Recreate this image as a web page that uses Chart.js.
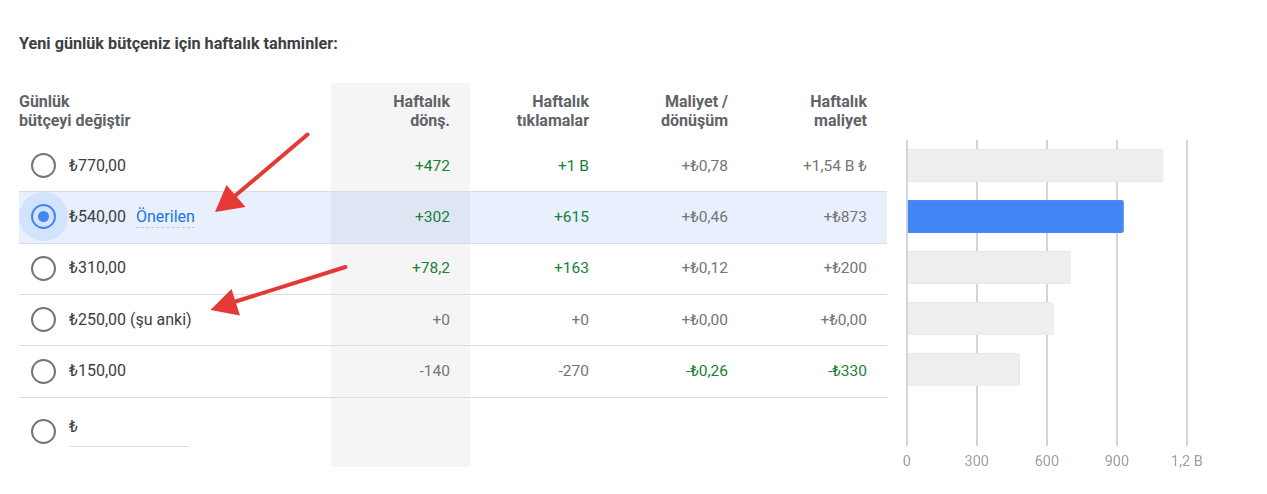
<!DOCTYPE html>
<html><head><meta charset="utf-8">
<script src="https://cdn.jsdelivr.net/npm/chart.js@4.4.1/dist/chart.umd.min.js"></script>
<style>
html,body{margin:0;padding:0}
body{width:1267px;height:494px;background:#fff;font-family:Roboto,"Noto Sans",Arial,sans-serif;position:relative;overflow:hidden;color:#3c4043}
.abs{position:absolute}
#title{font-size:16.2px;font-weight:700;color:#3c4043;line-height:20px;white-space:nowrap}
.hdr{font-size:16px;font-weight:700;color:#5f6368;line-height:19px;white-space:nowrap}
.graycol{background:rgba(0,0,0,0.04)}
.rowline{height:1px;background:#dadce0}
.val{font-size:15.5px;line-height:20px;text-align:right;white-space:nowrap;color:#757575}
.val.good{color:#188038}
.bud{font-size:16px;line-height:20px;white-space:nowrap;color:#3c4043}
.rec{color:#1a73e8;border-bottom:1px dashed #c4c7cc;margin-left:10px;padding-bottom:1px}
.radio{width:21px;height:21px;border:2px solid #757575;border-radius:50%;box-sizing:content-box}
.radio.on{border-color:#4285f4}
.dot{width:11px;height:11px;border-radius:50%;background:#4285f4}
.halo{width:49px;height:49px;border-radius:50%;background:#d2e3fc}
#chartBox{left:890px;top:130px;width:377px;height:350px}
svg{position:absolute;left:0;top:0;pointer-events:none}
</style>
</head>
<body>
<div id="root"></div>
<div id="chartBox" class="abs"><canvas id="c"></canvas></div>
<script>
// ---- data ----
const titleText = "Yeni günlük bütçeniz için haftalık tahminler:";
const headers = [["Günlük","bütçeyi değiştir"],["Haftalık","dönş."],["Haftalık","tıklamalar"],["Maliyet /","dönüşüm"],["Haftalık","maliyet"]];
const budgets = ["₺770,00","₺540,00","₺310,00","₺250,00","₺150,00","₺"];
const budgetNotes = ["","Önerilen","","(şu anki)","",""];
const weeklyConversions = ["+472","+302","+78,2","+0","-140"];
const weeklyClicks = ["+1 B","+615","+163","+0","-270"];
const costPerConversion = ["+₺0,78","+₺0,46","+₺0,12","+₺0,00","-₺0,26"];
const weeklyCost = ["+1,54 B ₺","+₺873","+₺200","+₺0,00","-₺330"];
const barValues = [1100, 930, 705, 630, 485, null];
const tickValues = [0, 300, 600, 900, 1200];
const tickLabels = ["0","300","600","900","1,2 B"];
const selectedIndex = 1;

// ---- layout ----
const root = document.getElementById('root');
function el(cls, css, html){const d=document.createElement('div');d.className='abs '+cls;Object.assign(d.style,css);if(html!==undefined)d.innerHTML=html;root.appendChild(d);return d;}
const rowTop = 139.8, rowH = 51.4, tableL = 19, tableR = 887;
const colRight = [450, 589, 728, 867];
const colLeft = [331, 470, 609, 748];

el('', {left:'19px',top:'34px'}, titleText).id='title';

// selected row highlight
el('', {left:tableL+'px',top:(rowTop+rowH*selectedIndex)+'px',width:(tableR-tableL)+'px',height:rowH+'px',background:'#e8f0fe'});
// gray column
el('graycol', {left:'331px',top:'83px',width:'139px',height:'384px'});

// headers
el('hdr', {left:'19px',top:'92px'}, headers[0].join('<br>'));
for(let c=1;c<5;c++){
  el('hdr', {left:colLeft[c-1]+'px',top:'92px',width:(colRight[c-1]-colLeft[c-1])+'px',textAlign:'right'}, headers[c].join('<br>'));
}
// row lines
for(let i=1;i<=5;i++){
  el('rowline', {left:tableL+'px',top:(rowTop+rowH*i)+'px',width:(tableR-tableL)+'px'});
}
// radio + budgets
function hasNonZero(s){return /[1-9]/.test(s);}
const columns = [[weeklyConversions,1],[weeklyClicks,1],[costPerConversion,-1],[weeklyCost,-1]];
for(let i=0;i<budgets.length;i++){
  const isCustom = i===budgets.length-1;
  const cy = isCustom ? 431.7 : rowTop + rowH*i + rowH/2;
  if(i===selectedIndex){
    el('halo', {left:(43.7-24.5)+'px',top:(cy-24.5)+'px'});
    el('radio on', {left:(43.7-12.5)+'px',top:(cy-12.5)+'px'});
    el('dot', {left:(43.7-5.5)+'px',top:(cy-5.5)+'px'});
  } else {
    el('radio', {left:(43.7-12.5)+'px',top:(cy-12.5)+'px'});
  }
  if(isCustom){
    el('bud', {left:'69px',top:(cy-15)+'px'}, budgets[i]);
    el('', {left:'69px',top:'446px',width:'120px',height:'1px',background:'#dadce0'});
  } else {
    let note = '';
    if(budgetNotes[i]){
      note = i===selectedIndex ? '<span class="rec">'+budgetNotes[i]+'</span>' : ' '+budgetNotes[i];
    }
    el('bud', {left:'69px',top:(cy-10)+'px'}, budgets[i]+note);
    columns.forEach(([arr,dir],c)=>{
      const s = arr[i];
      const sign = s.trim()[0]==='-' ? -1 : 1;
      const good = hasNonZero(s) && sign===dir;
      el('val'+(good?' good':''), {left:colLeft[c]+'px',top:(cy-10)+'px',width:(colRight[c]-colLeft[c])+'px'}, s);
    });
  }
}

// annotation arrows
const svgNS='http://www.w3.org/2000/svg';
const svg=document.createElementNS(svgNS,'svg');
svg.setAttribute('width','1267');svg.setAttribute('height','494');
svg.innerHTML =
 '<line x1="307.5" y1="134.5" x2="236" y2="195" stroke="#e53935" stroke-width="4" stroke-linecap="round"/>'+
 '<polygon points="215,212 226.5,185 245.5,207" fill="#e53935"/>'+
 '<line x1="345.5" y1="267" x2="234" y2="302" stroke="#e53935" stroke-width="4" stroke-linecap="round"/>'+
 '<polygon points="210.5,310 231.5,289 240,315.5" fill="#e53935"/>';
document.body.appendChild(svg);

// ---- chart ----
const barColors = barValues.map((v,i)=> i===selectedIndex ? '#4285f4' : '#eeeeee');
new Chart(document.getElementById('c'), {
  type:'bar',
  data:{
    labels: budgets,
    datasets:[{data:barValues, backgroundColor:barColors, borderColor:barValues.map((v,i)=>i===selectedIndex?'#4a8af4':'#e8e8e8'), borderWidth:1, borderRadius:2, borderSkipped:'start', barPercentage:0.65, categoryPercentage:1}]
  },
  options:{
    indexAxis:'y',
    responsive:true, maintainAspectRatio:false, animation:false,
    layout:{padding:{left:16.7,top:10,right:80,bottom:0.5}},
    plugins:{legend:{display:false},tooltip:{enabled:false}},
    scales:{
      y:{display:false},
      x:{min:0,max:1200,
        afterBuildTicks:(s)=>{s.ticks=tickValues.map(v=>({value:v}));},
        grid:{color:'#d3d4d8',lineWidth:2,drawTicks:false},
        border:{display:false},
        ticks:{padding:8,color:'#9aa0a6',font:{family:'Roboto',size:14.5},maxRotation:0,autoSkip:false,
          callback:(v,i)=>tickLabels[i]}
      }
    }
  }
});
</script>
</body></html>
